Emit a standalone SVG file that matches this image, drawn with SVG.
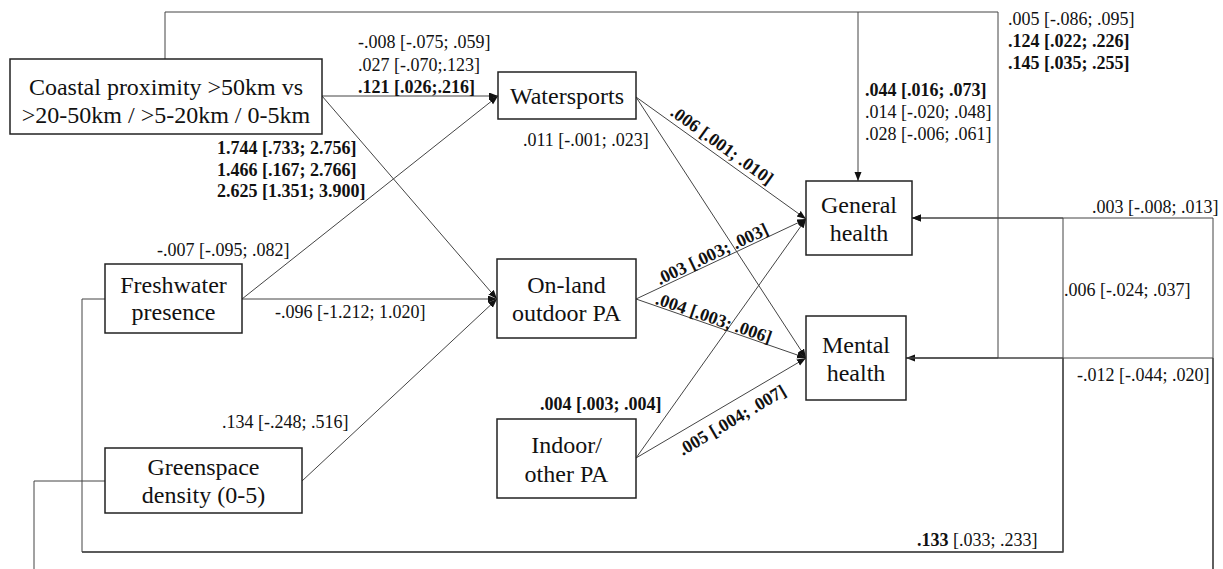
<svg xmlns="http://www.w3.org/2000/svg" width="1223" height="569" viewBox="0 0 1223 569">
<defs>
<marker id="arr" markerUnits="userSpaceOnUse" markerWidth="10" markerHeight="8" refX="9" refY="3.5" orient="auto">
<path d="M0,0 L9,3.5 L0,7 z" fill="#111"/>
</marker>
<style>
.box{fill:#fff;stroke:#222;stroke-width:1.5}
.nt{font-family:"Liberation Serif","Times New Roman",serif;font-size:24px;fill:#111;text-anchor:middle}
.lb{font-family:"Liberation Serif","Times New Roman",serif;font-size:18px;fill:#111}
.b{font-weight:bold}
.c{fill:none;stroke:#444;stroke-width:1}
.ca{fill:none;stroke:#444;stroke-width:1;marker-end:url(#arr)}
.thk{stroke-width:1.4}
</style>
</defs>
<rect width="1223" height="569" fill="#fff"/>
<g id="connectors">
<path class="ca" d="M322,96 L498,96"/>
<path class="ca" d="M322,96 L497,299"/>
<path class="ca" d="M242,299 L498,96"/>
<path class="ca" d="M242,299 L497,299"/>
<path class="ca" d="M302,481 L497,299"/>
<path class="ca" d="M636,97 L806,219"/>
<path class="ca" d="M636,97 L806,358"/>
<path class="ca" d="M636,299 L806,219"/>
<path class="ca" d="M636,299 L806,358"/>
<path class="ca" d="M636,458 L806,219"/>
<path class="ca" d="M636,458 L806,358"/>
<path class="ca" d="M165,59 L165,12 L858,12 L858,181"/>
<path class="ca" d="M858,12 L998,12 L998,358 L906,358"/>
<path class="ca" d="M105,299 L82,299 L82,552 L1063,552 L1063,218 L912,218"/>
<path class="c thk" d="M82,552 L1063,552 L1063,358"/>
<path class="c" d="M1063,358 L906,358"/>
<path class="ca" d="M105,481 L34,481 L34,600 L1213,600 L1213,218 L912,218"/>
<path class="c thk" d="M1213,600 L1213,358"/>
<path class="c" d="M1213,358 L906,358"/>
</g>
<g id="coastal">
<rect class="box" x="10" y="59" width="312" height="75"/>
<text class="nt" x="166" y="95">Coastal proximity &gt;50km vs</text>
<text class="nt" x="166" y="123">&gt;20-50km / &gt;5-20km / 0-5km</text>
</g>
<g id="freshwater">
<rect class="box" x="105" y="264" width="137" height="69"/>
<text class="nt" x="173.5" y="293">Freshwater</text>
<text class="nt" x="173.5" y="320">presence</text>
</g>
<g id="greenspace">
<rect class="box" x="105" y="448" width="197" height="65"/>
<text class="nt" x="203.5" y="475">Greenspace</text>
<text class="nt" x="203.5" y="503">density (0-5)</text>
</g>
<g id="watersports">
<rect class="box" x="498" y="72" width="138" height="47"/>
<text class="nt" x="567" y="104">Watersports</text>
</g>
<g id="onland">
<rect class="box" x="497" y="259" width="139" height="79"/>
<text class="nt" x="566.5" y="293">On-land</text>
<text class="nt" x="566.5" y="321">outdoor PA</text>
</g>
<g id="indoor">
<rect class="box" x="497" y="419" width="139" height="79"/>
<text class="nt" x="566.5" y="453">Indoor/</text>
<text class="nt" x="566.5" y="482">other PA</text>
</g>
<g id="general">
<rect class="box" x="806" y="181" width="106" height="74"/>
<text class="nt" x="859" y="213">General</text>
<text class="nt" x="859" y="241">health</text>
</g>
<g id="mental">
<rect class="box" x="806" y="316" width="100" height="84"/>
<text class="nt" x="856" y="353">Mental</text>
<text class="nt" x="856" y="381">health</text>
</g>
<g id="labels">
<text class="lb" x="358" y="48">-.008 [-.075; .059]</text>
<text class="lb" x="358" y="71">.027 [-.070;.123]</text>
<text class="lb b" x="358" y="93">.121 [.026;.216]</text>
<text class="lb b" x="217" y="154">1.744 [.733; 2.756]</text>
<text class="lb b" x="217" y="176">1.466 [.167; 2.766]</text>
<text class="lb b" x="217" y="197">2.625 [1.351; 3.900]</text>
<text class="lb" x="157" y="256">-.007 [-.095; .082]</text>
<text class="lb" x="275" y="318">-.096 [-1.212; 1.020]</text>
<text class="lb" x="222" y="428">.134 [-.248; .516]</text>
<text class="lb" x="523" y="146">.011 [-.001; .023]</text>
<text class="lb b" x="540" y="410">.004 [.003; .004]</text>
<text class="lb b" x="865" y="96">.044 [.016; .073]</text>
<text class="lb" x="865" y="118">.014 [-.020; .048]</text>
<text class="lb" x="865" y="140">.028 [-.006; .061]</text>
<text class="lb" x="1008" y="25">.005 [-.086; .095]</text>
<text class="lb b" x="1008" y="47">.124 [.022; .226]</text>
<text class="lb b" x="1008" y="69">.145 [.035; .255]</text>
<text class="lb" x="1092" y="213">.003 [-.008; .013]</text>
<text class="lb" x="1064" y="296">.006 [-.024; .037]</text>
<text class="lb" x="1077" y="381">-.012 [-.044; .020]</text>
<text class="lb" x="917" y="546"><tspan class="b">.133</tspan> [.033; .233]</text>
<text class="lb b" text-anchor="middle" transform="translate(718.5,150) rotate(35.7)">.006 [.001; .010]</text>
<text class="lb b" text-anchor="middle" transform="translate(714.6,259.4) rotate(-25.2)">.003 [.003; .003]</text>
<text class="lb b" text-anchor="middle" transform="translate(712,323.7) rotate(19.1)">.004 [.003; .006]</text>
<text class="lb b" text-anchor="middle" transform="translate(735,425.2) rotate(-30.5)">.005 [.004; .007]</text>
</g>
</svg>
